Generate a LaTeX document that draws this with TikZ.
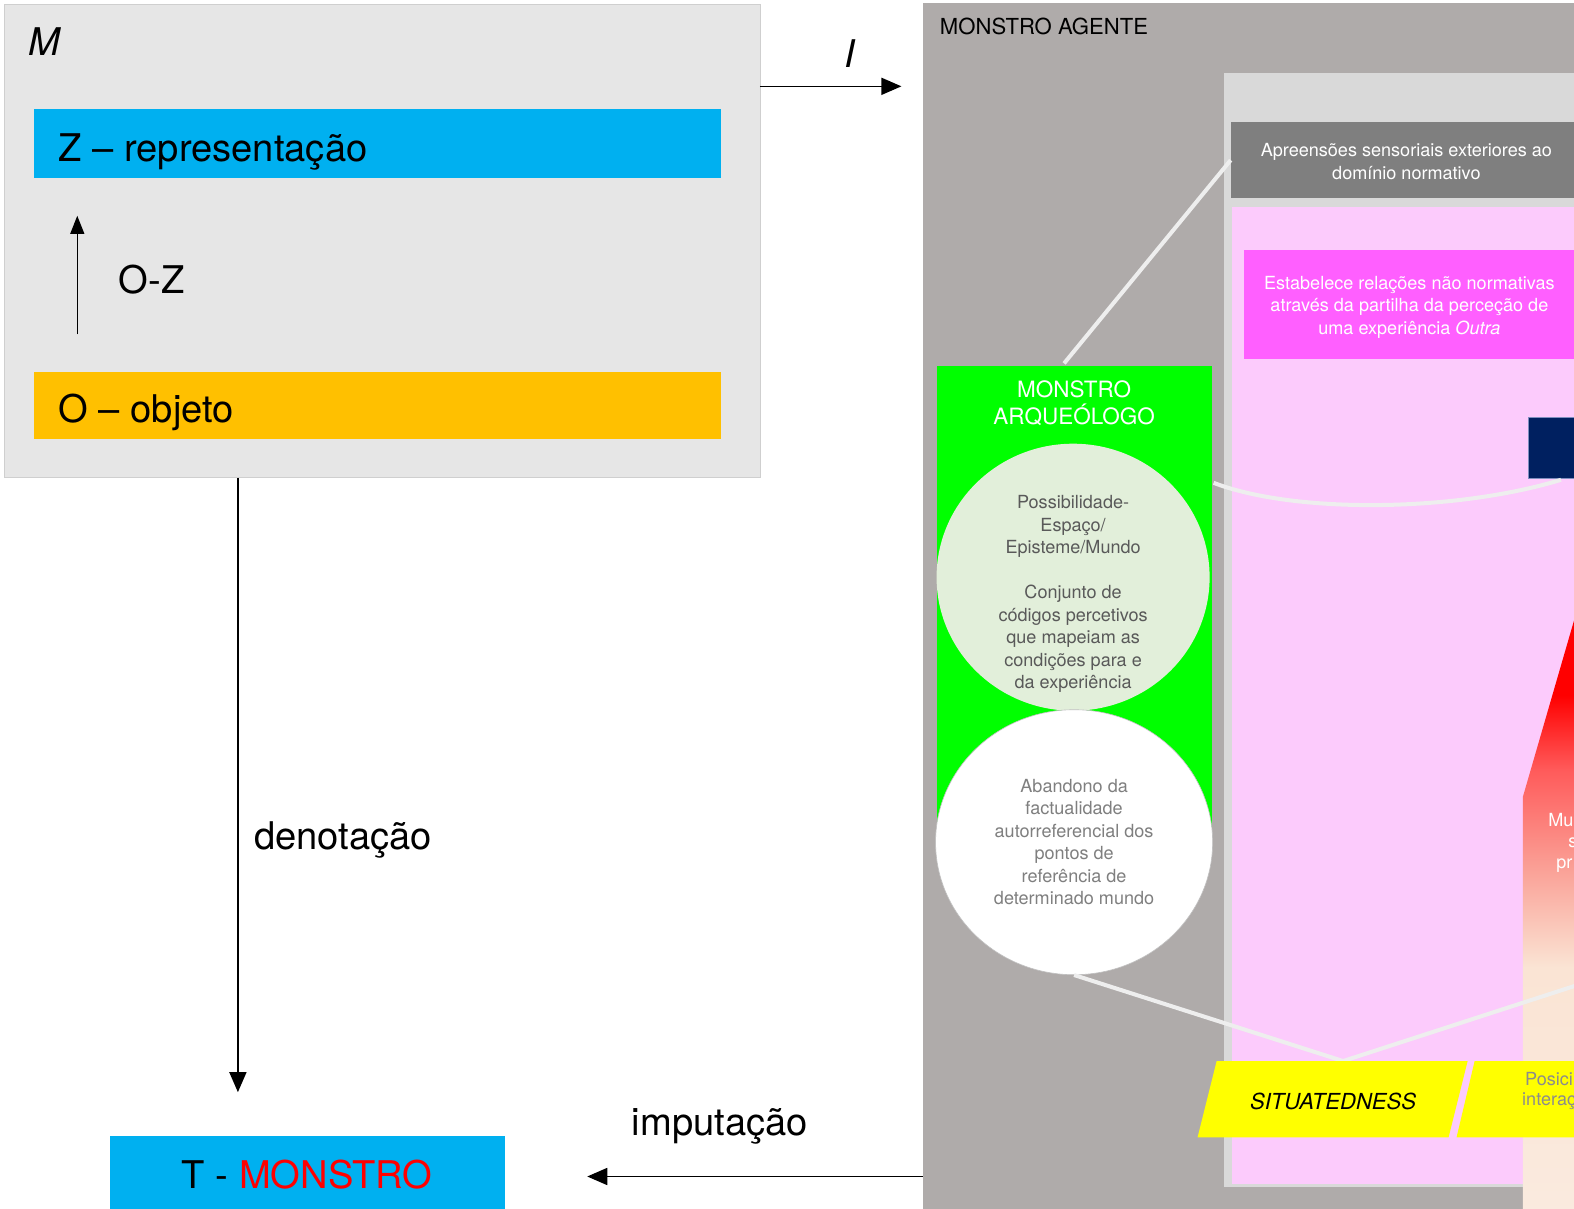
\documentclass[tikz,border=0pt]{standalone}
\usepackage{fontspec}
\setmainfont{TeX Gyre Heros}
\usetikzlibrary{arrows.meta,calc,fit,shapes.geometric}
\definecolor{mgrey}{HTML}{E6E6E6}
\definecolor{mborder}{HTML}{CFCFCF}
\definecolor{cyanbar}{HTML}{00B0F0}
\definecolor{orangebar}{HTML}{FFC000}
\definecolor{agentc}{HTML}{AFABAA}
\definecolor{lgrey}{HTML}{D9D9D9}
\definecolor{dgrey}{HTML}{7F7F7F}
\definecolor{pinkc}{HTML}{FCCBFC}
\definecolor{magc}{HTML}{FF5FFF}
\definecolor{navyc}{HTML}{002060}
\definecolor{navyb}{HTML}{7F8FBF}
\definecolor{greenc}{HTML}{00FF00}
\definecolor{lgreen}{HTML}{E2EFDA}
\definecolor{yellowc}{HTML}{FFFF00}
\definecolor{linec}{HTML}{EEEEEE}
\definecolor{txtA}{HTML}{595959}
\definecolor{txtB}{HTML}{7F7F7F}
\definecolor{txtC}{HTML}{8C8C8C}
\definecolor{redc}{HTML}{FF0000}
\definecolor{red2}{RGB}{255,90,90}
\definecolor{salmonc}{RGB}{250,160,150}
\definecolor{peachc}{RGB}{250,228,212}
\definecolor{peach2}{RGB}{250,234,222}
\definecolor{offw}{RGB}{255,250,248}
\pgfdeclareverticalshading{redfade}{100bp}{color(0bp)=(white); color(11bp)=(offw); color(26bp)=(peach2); color(45bp)=(peachc); color(53bp)=(salmonc); color(61bp)=(red2); color(67bp)=(redc); color(100bp)=(redc)}
\begin{document}
\begin{tikzpicture}[x=0.5pt,y=-0.5pt,
  arr/.style={line width=0.75pt,-{Triangle[length=10pt,width=8.5pt]}},
  box/.style={inner sep=0pt, outer sep=0pt},
  big/.style={font=\fontsize{19}{23}\selectfont, inner sep=0pt},
  small/.style={font=\fontsize{9}{11.2}\selectfont, align=center, inner sep=0pt},
  link/.style={draw=linec, line width=2pt}]
\clip (0,0) rectangle (1568,1204);
\fill[white] (0,0) rectangle (1568,1204);

% ---------- M box ----------
\node[box, fit={(4,4) (757,476)}, fill=mgrey, draw=mborder, line width=0.4pt] (mbox) {};
\node[big, anchor=base west] (mlab) at (28,55) {\itshape M};
\node[box, fit={(34,109) (718,177)}, fill=cyanbar] (zbar) {};
\node[big, anchor=base west] (zlab) at (58,161) {Z – representação};
\node[box, fit={(34,371) (718,437)}, fill=orangebar] (obar) {};
\node[big, anchor=base west] (olab) at (58,421) {O – objeto};
\draw[arr, line width=0.6pt, -{Triangle[length=9pt,width=7pt]}, shorten <=19pt, shorten >=19pt]
  ($(obar.north west)+(43,0)$) -- ($(zbar.south west)+(43,0)$);
\node[big, anchor=base west] (oz) at (118,292) {O-Z};

% ---------- T box ----------
\node[box, fit={(110,1132) (503,1212)}, fill=cyanbar] (tbox) {};
\node[big, anchor=base] (tlab) at (306,1184) {T - \textcolor{redc}{MONSTRO}};

% ---------- Agente panel ----------
\node[box, fit={(919,3) (1580,1212)}, fill=agentc] (agente) {};
\node[anchor=base west, inner sep=0pt, font=\fontsize{11}{13}\selectfont] (aglab) at (936,34) {MONSTRO AGENTE};
\node[box, fit={(1219,73) (1580,1182)}, fill=lgrey] (inner) {};
\node[box, fit={(1226,122) (1580,197)}, fill=dgrey] (apre) {};
\node[small, text=white] (apret) at (1401,161) {Apreensões sensoriais exteriores ao\\domínio normativo};
\node[box, fit={(1227,206) (1580,1179)}, fill=pinkc] (pinkp) {};
\node[box, fit={(1239,249) (1580,358)}, fill=magc] (estab) {};
\node[small, text=white] (estabt) at (1404,306) {Estabelece relações não normativas\\através da partilha da perceção de\\uma experiência \textit{Outra}};
\node[box, fit={(1523,416) (1580,477)}, fill=navyc, draw=navyb, line width=0.4pt] (navy) {};

% red gradient shape
\shade[shading=redfade] (1575,594) -- (1517,794) -- (1517,1210) -- (1575,1210) -- cycle;
\node[small, text=white, anchor=west] (mu1) at (1542,817) {Mu};
\node[small, text=white, anchor=west] (mu2) at (1562,840) {s};
\node[small, text=white, anchor=west] (mu3) at (1550,862) {pr};

% ---------- green column ----------
\node[box, fit={(933,365) (1207,830)}, fill=greenc] (arq) {};
\node[align=center, inner sep=0pt, text=white, font=\fontsize{11.2}{13.5}\selectfont] (arqt) at (1070,402) {MONSTRO\\ARQUEÓLOGO};

% connectors (light lines)
\coordinate (arqr) at ($(arq.north east)+(2,116)$);
\coordinate (navyl) at ($(navy.south west)+(32,1)$);
\draw[link] ($(arq.north)+(-10,-3)$) -- (apre.west);
\draw[link] (arqr) .. controls (1290,512) and (1450,510) .. (navyl);

\node[ellipse, fill=lgreen, minimum width=136pt, minimum height=133pt, inner sep=0pt] (poss) at (1069,575) {};
\node[small, text=txtA] (posst) at (1069,592) {Possibilidade-\\Espaço/\\Episteme/Mundo\\[11.2pt]Conjunto de\\códigos percetivos\\que mapeiam as\\condições para e\\da experiência};
\node[ellipse, fill=white, draw=black!25, line width=0.3pt, minimum width=138pt, minimum height=132pt, inner sep=0pt, small, text=txtB] (aband) at (1070,839) {Abandono da\\factualidade\\autorreferencial dos\\pontos de\\referência de\\determinado mundo};

\coordinate (sittop) at (1338,1057);
\coordinate (rend) at (1600,972);
\draw[link] (aband.south) -- (sittop) -- (rend);

% yellow boxes
\fill[yellowc] (1212,1057) -- (1462,1057) -- (1443,1133) -- (1193,1133) -- cycle;
\node[inner sep=0pt, font=\fontsize{11}{13}\selectfont\itshape] (sit) at (1328,1097) {SITUATEDNESS};
\fill[yellowc] (1469,1057) -- (1580,1057) -- (1580,1133) -- (1451,1133) -- cycle;
\node[small, text=txtC, anchor=west] (pos1) at (1519,1075) {Posici};
\node[small, text=txtC, anchor=west] (pos2) at (1516,1097) {interaç};

% ---------- arrows between parts ----------
\coordinate (iy) at (0,86);
\draw[arr, shorten >=10.5pt] (mbox.east |- iy) -- (agente.west |- iy);
\node[big, anchor=base] (ilab) at (847,67) {\itshape I};
\coordinate (dstart) at ($(mbox.south west)+(233,0)$);
\draw[arr, shorten >=22pt] (dstart) -- (dstart |- tbox.north);
\node[big, anchor=base west] (dlab) at (253,846) {denotação};
\draw[arr, shorten >=41pt] (agente.west |- tbox.east) -- (tbox.east);
\node[big, anchor=base west] (implab) at (629,1131) {imputação};
\end{tikzpicture}
\end{document}
